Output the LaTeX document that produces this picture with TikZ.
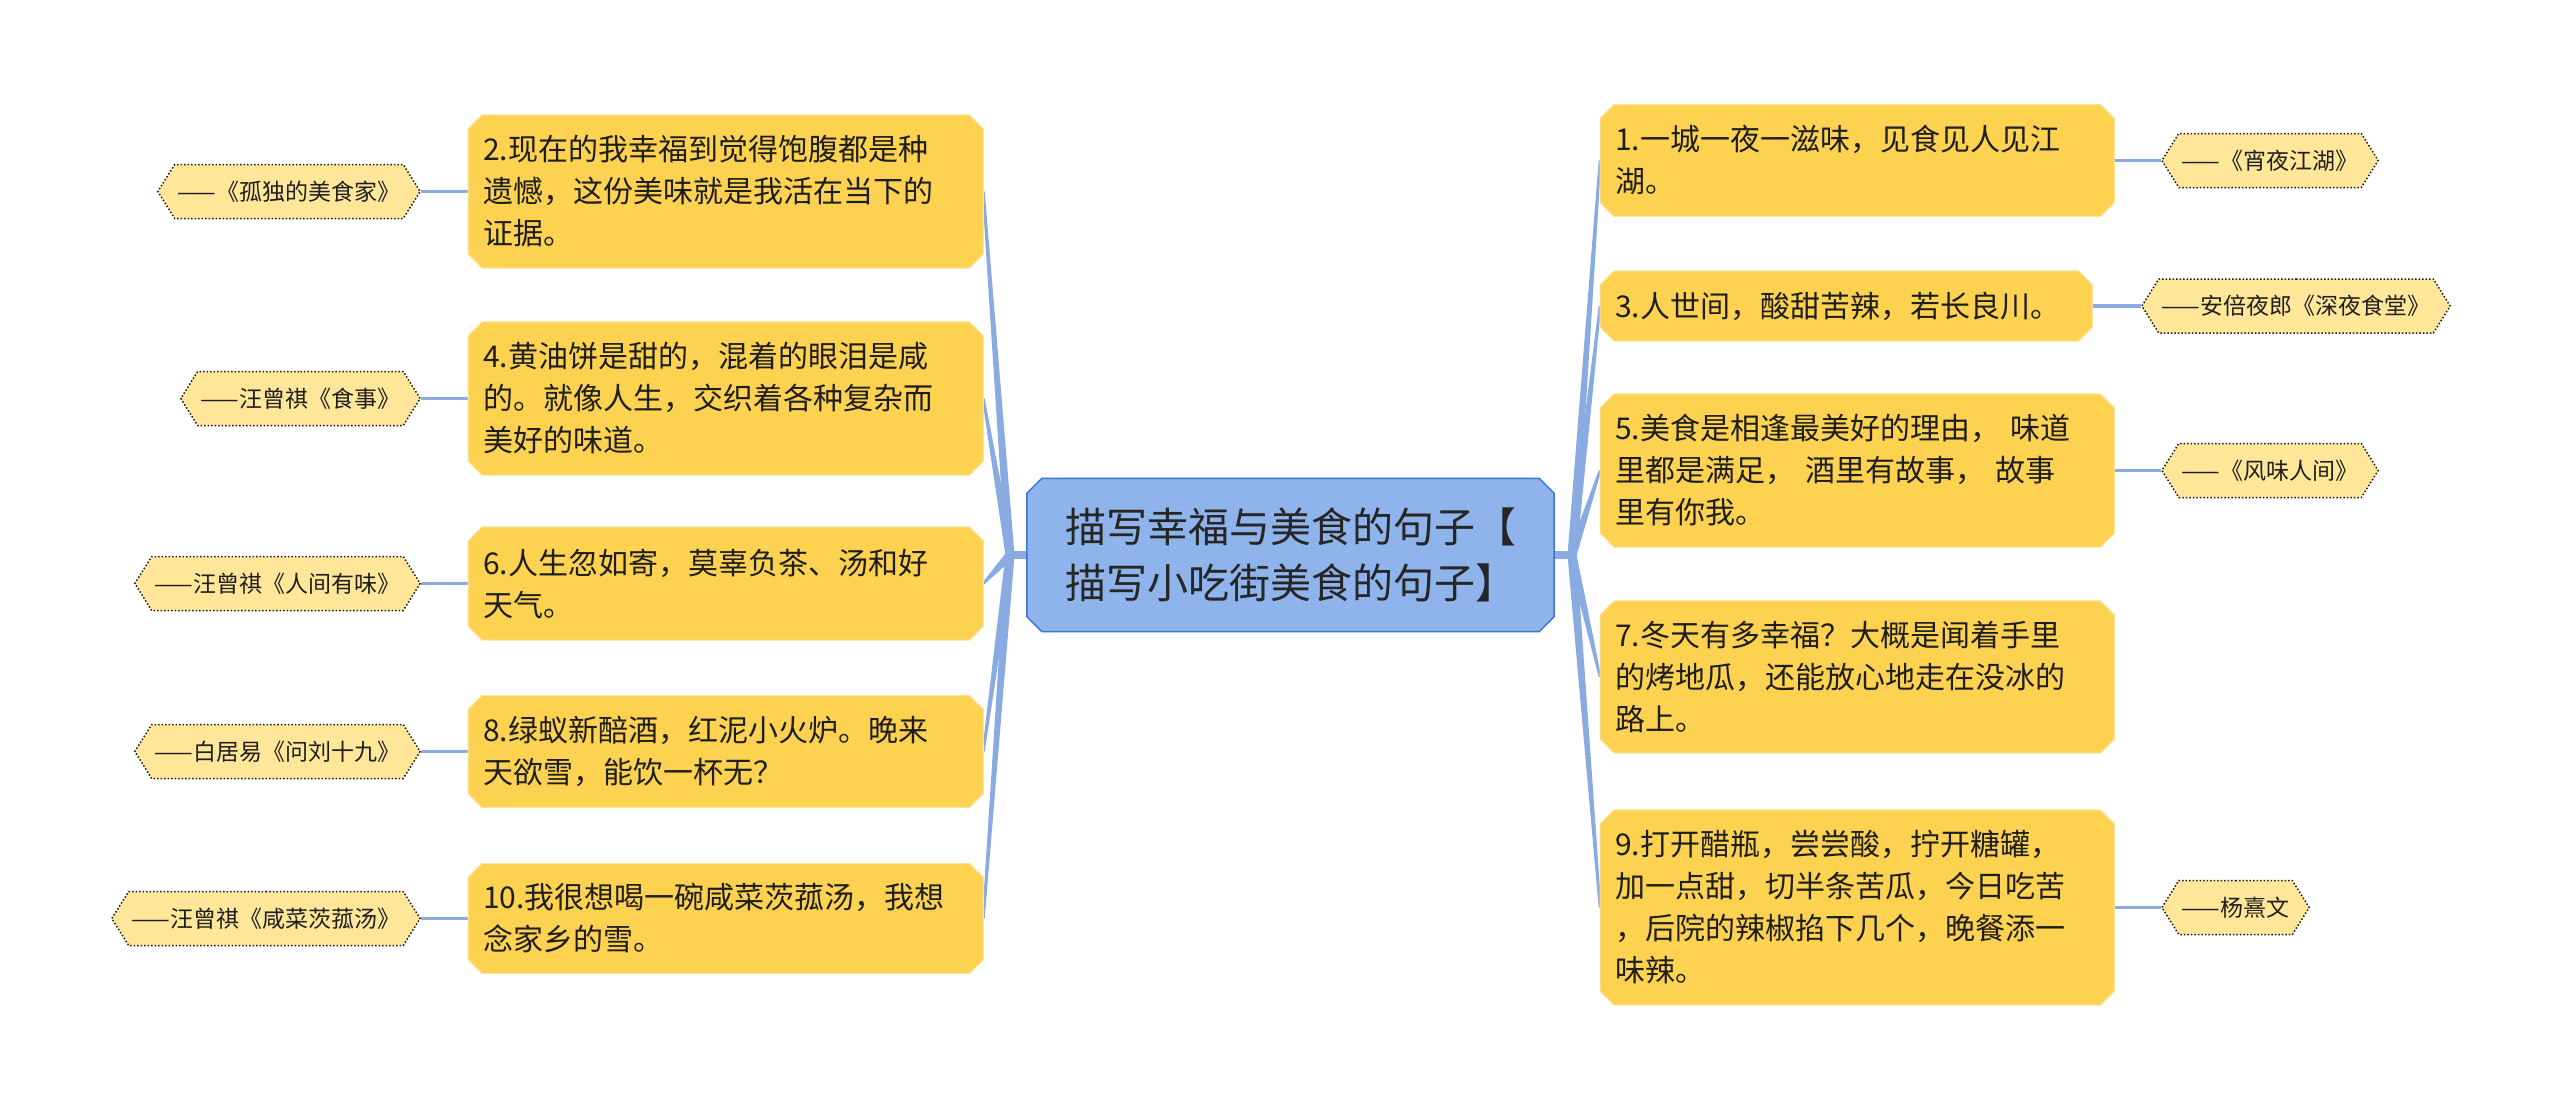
\documentclass[tikz,border=0pt]{standalone}
\usepackage{fontspec}
\newfontfamily\cjk{Noto Sans CJK SC}
\usetikzlibrary{calc,shapes.symbols}
\definecolor{boxY}{HTML}{FCD250}
\definecolor{boxYedge}{HTML}{FDE3A0}
\definecolor{hexY}{HTML}{FFE699}
\definecolor{cenB}{HTML}{8EB4EB}
\definecolor{cenEdge}{HTML}{3A74D6}
\definecolor{conn}{HTML}{8AABE2}
\definecolor{txt}{HTML}{1E1E1E}
\pgfdeclarelayer{back}
\pgfdeclarelayer{bg}
\pgfsetlayers{back,bg,main}
\newcommand\chamferfill[3]{%
  \path[#3] ($(#1.north west)+(#2,0)$) -- ($(#1.north east)+(-#2,0)$) -- ($(#1.north east)+(0,#2)$) -- ($(#1.south east)+(0,-#2)$) -- ($(#1.south east)+(-#2,0)$) -- ($(#1.south west)+(#2,0)$) -- ($(#1.south west)+(0,-#2)$) -- ($(#1.north west)+(0,#2)$) -- cycle;}
\newcommand\taper[4]{%
  \fill[conn] ($(#1)!#3!90:(#2)$) -- ($(#2)!#4!-90:(#1)$) -- ($(#2)!#4!90:(#1)$) -- ($(#1)!#3!-90:(#2)$) -- cycle;}
\tikzset{
  ybox/.style={rectangle, inner xsep=15pt, inner ysep=0pt, text width=#1, align=left,
    font=\cjk\fontsize{30pt}{42pt}\selectfont, text=txt},
  hexnode/.style={shape=signal, signal to=west and east, signal pointer angle=116,
    fill=hexY, draw=black!90, dotted, line width=1.5pt, minimum height=54pt,
    inner xsep=3pt, inner ysep=2pt, font=\cjk\fontsize{23pt}{28pt}\selectfont, text=txt},
  cen/.style={rectangle, minimum width=527pt, minimum height=153pt, align=center,
    font=\cjk\fontsize{41pt}{56pt}\selectfont, text=black!85},
  leaf/.style={line width=3.5pt, draw=conn},
}
\begin{document}
\begin{tikzpicture}[x=1pt,y=-1pt]
\useasboundingbox (0,0) rectangle (2560,1111);
\begin{pgfonlayer}{back}
\fill[white] (0,0) rectangle (2560,1111);
\end{pgfonlayer}

% central topic
\node[cen] (C) at (1290.5,555) {描写幸福与美食的句子【\\描写小吃街美食的句子】};
\coordinate (JL) at (1010,555);
\coordinate (JR) at (1572,555);

% left boxes
\node[ybox=485pt, anchor=west, minimum height=153pt] (b2) at (468,191.5) {2.现在的我幸福到觉得饱腹都是种\\遗憾，这份美味就是我活在当下的\\证据。};
\node[ybox=485pt, anchor=west, minimum height=153pt] (b4) at (468,398.5) {4.黄油饼是甜的，混着的眼泪是咸\\的。就像人生，交织着各种复杂而\\美好的味道。};
\node[ybox=485pt, anchor=west, minimum height=113pt] (b6) at (468,583.5) {6.人生忽如寄，莫辜负茶、汤和好\\天气。};
\node[ybox=485pt, anchor=west, minimum height=112pt] (b8) at (468,751.5) {8.绿蚁新醅酒，红泥小火炉。晚来\\天欲雪，能饮一杯无？};
\node[ybox=485pt, anchor=west, minimum height=110pt] (b10) at (468,918.5) {10.我很想喝一碗咸菜茨菰汤，我想\\念家乡的雪。};

% right boxes
\node[ybox=484pt, anchor=west, minimum height=112pt] (b1) at (1600,160.5) {1.一城一夜一滋味，见食见人见江\\湖。};
\node[ybox=462pt, anchor=west, minimum height=70pt] (b3) at (1600,306) {3.人世间，酸甜苦辣，若长良川。};
\node[ybox=484pt, anchor=west, minimum height=153pt] (b5) at (1600,470.5) {5.美食是相逢最美好的理由， 味道\\里都是满足， 酒里有故事， 故事\\里有你我。};
\node[ybox=484pt, anchor=west, minimum height=152pt] (b7) at (1600,677) {7.冬天有多幸福？大概是闻着手里\\的烤地瓜，还能放心地走在没冰的\\路上。};
\node[ybox=484pt, anchor=west, minimum height=195pt] (b9) at (1600,907.5) {9.打开醋瓶，尝尝酸，拧开糖罐，\\加一点甜，切半条苦瓜，今日吃苦\\，后院的辣椒掐下几个，晚餐添一\\味辣。};

% sources left
\node[hexnode, anchor=east] (s2) at (421,191.5) {——《孤独的美食家》};
\node[hexnode, anchor=east] (s4) at (421,398.5) {——汪曾祺《食事》};
\node[hexnode, anchor=east] (s6) at (421,583.5) {——汪曾祺《人间有味》};
\node[hexnode, anchor=east] (s8) at (421,751.5) {——白居易《问刘十九》};
\node[hexnode, anchor=east] (s10) at (421,918.5) {——汪曾祺《咸菜茨菰汤》};

% sources right
\node[hexnode, anchor=west] (s1) at (2161,160.5) {——《宵夜江湖》};
\node[hexnode, anchor=west] (s3) at (2141,306) {——安倍夜郎《深夜食堂》};
\node[hexnode, anchor=west] (s5) at (2161,470.5) {——《风味人间》};
\node[hexnode, anchor=west] (s9) at (2161,907.5) {——杨熹文};

\begin{pgfonlayer}{bg}
  \draw[conn, line width=8pt] (JL) -- (C.west);
  \draw[conn, line width=8pt] (JR) -- (C.east);
  \foreach \b in {b2,b4,b6,b8,b10}{\taper{JL}{\b.east}{4.5pt}{1.3pt}}
  \foreach \b in {b1,b3,b5,b7,b9}{\taper{JR}{\b.west}{4.5pt}{1.3pt}}
  \draw[leaf] (s2.east) -- (b2.west);
  \draw[leaf] (s4.east) -- (b4.west);
  \draw[leaf] (s6.east) -- (b6.west);
  \draw[leaf] (s8.east) -- (b8.west);
  \draw[leaf] (s10.east) -- (b10.west);
  \draw[leaf] (b1.east) -- (s1.west);
  \draw[leaf] (b3.east) -- (s3.west);
  \draw[leaf] (b5.east) -- (s5.west);
  \draw[leaf] (b9.east) -- (s9.west);
  \foreach \b in {b1,b2,b3,b4,b5,b6,b7,b8,b9,b10}{\chamferfill{\b}{14}{fill=boxY, draw=boxYedge, line width=1pt}}
  \chamferfill{C}{15}{fill=cenB, draw=cenEdge, line width=1.5pt}
\end{pgfonlayer}
\end{tikzpicture}
\end{document}
